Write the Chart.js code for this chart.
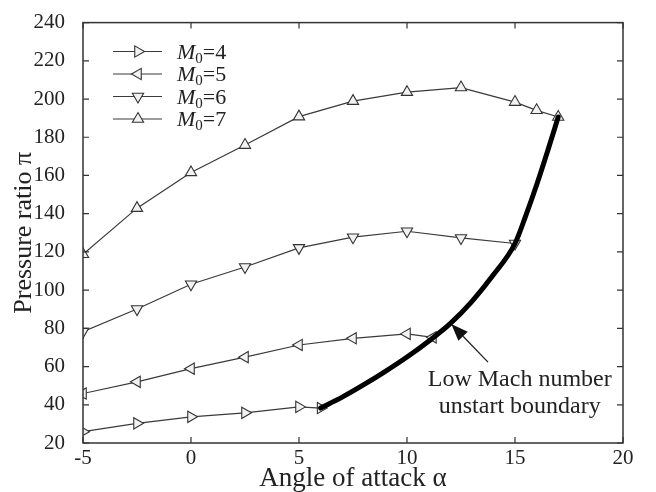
<!DOCTYPE html>
<html>
<head>
<meta charset="utf-8">
<script src="https://cdn.jsdelivr.net/npm/chart.js@4.4.1/dist/chart.umd.min.js"></script>
<style>
  html, body { margin: 0; padding: 0; background: #fff; }
  #wrap { width: 656px; height: 492px; }
</style>
</head>
<body>
<div id="wrap"><canvas id="pressureChart" width="656" height="492"></canvas></div>
<script>
// Pressure ratio vs angle of attack, one series per inlet Mach number
const alphaM4 = [-5, -2.5, 0, 2.5, 5, 6];
const piM4 = [25.9, 30.3, 33.7, 35.8, 38.9, 38.3];

const alphaM5 = [-5, -2.5, 0, 2.5, 5, 7.5, 10, 11.2];
const piM5 = [45.9, 52, 58.9, 64.9, 71.3, 74.8, 77.1, 75.3];

const alphaM6 = [-5, -2.5, 0, 2.5, 5, 7.5, 10, 12.5, 15];
const piM6 = [78.3, 90.1, 103.1, 112.1, 122.1, 127.7, 130.8, 127.3, 124.4];

const alphaM7 = [-5, -2.5, 0, 2.5, 5, 7.5, 10, 12.5, 15, 16, 17];
const piM7 = [118.8, 142.9, 161.6, 175.9, 190.8, 198.9, 203.6, 206, 198.4, 194.1, 190.6];

// low Mach number unstart boundary
const alphaBoundary = [6, 7, 8, 9, 10, 11, 12, 13, 14, 15, 15.5, 16, 16.5, 17];
const piBoundary = [38.3, 44, 50.5, 57.5, 65, 73.3, 82.5, 94, 108, 124.4, 139, 155, 172.4, 190.6];

const xTicks = [-5, 0, 5, 10, 15, 20];
const yTicks = [20, 40, 60, 80, 100, 120, 140, 160, 180, 200, 220, 240];

const legendMach = ['4', '5', '6', '7'];
const markerRotation = [90, 270, 180, 0];

const SERIF = '"Liberation Serif", "DejaVu Serif", serif';
const lineColor = '#3a3a3a';
const markerFill = '#f2f2f2';

function pairs(xs, ys) {
    return xs.map((x, i) => ({ x: x, y: ys[i] }));
}

function machSeries(idx, xs, ys) {
    return {
        label: 'M0=' + legendMach[idx],
        data: pairs(xs, ys),
        borderColor: lineColor,
        borderWidth: 1.2,
        pointStyle: 'triangle',
        pointRotation: markerRotation[idx],
        pointRadius: 6.5,
        pointBorderWidth: 1.1,
        pointBorderColor: '#333',
        pointBackgroundColor: markerFill,
        tension: 0,
        order: 2
    };
}

// frame, inward ticks, legend and annotation drawn over the chart
const decorPlugin = {
    id: 'decor',
    afterDraw(chart) {
        const ctx = chart.ctx;
        const area = chart.chartArea;
        const xs = chart.scales.x;
        const ys = chart.scales.y;

        ctx.save();
        ctx.strokeStyle = '#333';
        ctx.lineWidth = 1.5;
        ctx.strokeRect(area.left, area.top, area.right - area.left, area.bottom - area.top);

        ctx.lineWidth = 1.2;
        const tl = 6;
        ctx.beginPath();
        xTicks.forEach(v => {
            const px = xs.getPixelForValue(v);
            ctx.moveTo(px, area.bottom); ctx.lineTo(px, area.bottom - tl);
            ctx.moveTo(px, area.top); ctx.lineTo(px, area.top + tl);
        });
        yTicks.forEach(v => {
            const py = ys.getPixelForValue(v);
            ctx.moveTo(area.left, py); ctx.lineTo(area.left + tl, py);
            ctx.moveTo(area.right, py); ctx.lineTo(area.right - tl, py);
        });
        ctx.stroke();

        // legend
        const rowY = [51.5, 74, 96.5, 119];
        chart.data.datasets.slice(0, 4).forEach((ds, i) => {
            const y = rowY[i];
            ctx.strokeStyle = lineColor;
            ctx.lineWidth = 1.2;
            ctx.beginPath();
            ctx.moveTo(113, y); ctx.lineTo(162, y);
            ctx.stroke();
            ctx.fillStyle = markerFill;
            ctx.strokeStyle = '#333';
            ctx.lineWidth = 1.1;
            Chart.helpers.drawPoint(ctx, { pointStyle: 'triangle', rotation: markerRotation[i], radius: 6.5, borderWidth: 1.1 }, 138, y);

            ctx.fillStyle = '#222';
            ctx.textBaseline = 'alphabetic';
            ctx.textAlign = 'left';
            let tx = 177;
            ctx.font = 'italic 22px ' + SERIF;
            ctx.fillText('M', tx, y + 7);
            tx += ctx.measureText('M').width;
            ctx.font = '15px ' + SERIF;
            ctx.fillText('0', tx, y + 11);
            tx += ctx.measureText('0').width;
            ctx.font = '22px ' + SERIF;
            ctx.fillText('=' + legendMach[i], tx, y + 7);
        });

        // arrow to the boundary
        const tipX = xs.getPixelForValue(12.05), tipY = ys.getPixelForValue(82.3);
        const tailX = xs.getPixelForValue(13.75), tailY = ys.getPixelForValue(62.3);
        const ang = Math.atan2(tipY - tailY, tipX - tailX);
        const headLen = 17, headW = 6.5;
        const baseX = tipX - headLen * Math.cos(ang), baseY = tipY - headLen * Math.sin(ang);
        ctx.strokeStyle = '#222';
        ctx.lineWidth = 1.3;
        ctx.beginPath();
        ctx.moveTo(tailX, tailY); ctx.lineTo(baseX, baseY);
        ctx.stroke();
        ctx.fillStyle = '#111';
        ctx.beginPath();
        ctx.moveTo(tipX, tipY);
        ctx.lineTo(baseX + headW * Math.sin(ang), baseY - headW * Math.cos(ang));
        ctx.lineTo(baseX - headW * Math.sin(ang), baseY + headW * Math.cos(ang));
        ctx.closePath();
        ctx.fill();

        ctx.fillStyle = '#222';
        ctx.font = '24px ' + SERIF;
        ctx.textAlign = 'center';
        ctx.textBaseline = 'middle';
        const cx = xs.getPixelForValue(15.22);
        ctx.fillText('Low Mach number', cx, ys.getPixelForValue(53.3));
        ctx.fillText('unstart boundary', cx, ys.getPixelForValue(39));
        ctx.restore();
    }
};

const ctx = document.getElementById('pressureChart');
new Chart(ctx, {
    type: 'line',
    data: {
        datasets: [
            machSeries(0, alphaM4, piM4),
            machSeries(1, alphaM5, piM5),
            machSeries(2, alphaM6, piM6),
            machSeries(3, alphaM7, piM7),
            {
                label: 'boundary',
                data: pairs(alphaBoundary, piBoundary),
                borderColor: '#000',
                borderWidth: 5,
                pointRadius: 0,
                cubicInterpolationMode: 'monotone',
                borderCapStyle: 'round',
                order: 1
            }
        ]
    },
    options: {
        responsive: false,
        animation: false,
        devicePixelRatio: 1,
        layout: { padding: { top: 20, right: 33, left: 0, bottom: 0 } },
        plugins: {
            legend: { display: false },
            tooltip: { enabled: false }
        },
        scales: {
            x: {
                type: 'linear',
                min: -5,
                max: 20,
                afterFit: axis => { axis.height = 49; },
                afterBuildTicks: axis => { axis.ticks = xTicks.map(v => ({ value: v })); },
                grid: { display: false },
                border: { display: false },
                ticks: { padding: -3, color: '#222', font: { family: SERIF, size: 21, lineHeight: 1 } },
                title: {
                    display: true,
                    text: 'Angle of attack α',
                    color: '#222',
                    font: { family: SERIF, size: 27, lineHeight: 1 },
                    padding: { top: 0, bottom: 0 }
                }
            },
            y: {
                min: 20,
                max: 240,
                afterFit: axis => { axis.width = 83; },
                afterBuildTicks: axis => { axis.ticks = yTicks.map(v => ({ value: v })); },
                grid: { display: false },
                border: { display: false },
                ticks: { padding: 10, color: '#222', font: { family: SERIF, size: 21 } },
                title: {
                    display: true,
                    text: 'Pressure ratio π',
                    color: '#222',
                    font: { family: SERIF, size: 26, lineHeight: 1 },
                    padding: { top: 11, bottom: 0 }
                }
            }
        }
    },
    plugins: [decorPlugin]
});
</script>
</body>
</html>
